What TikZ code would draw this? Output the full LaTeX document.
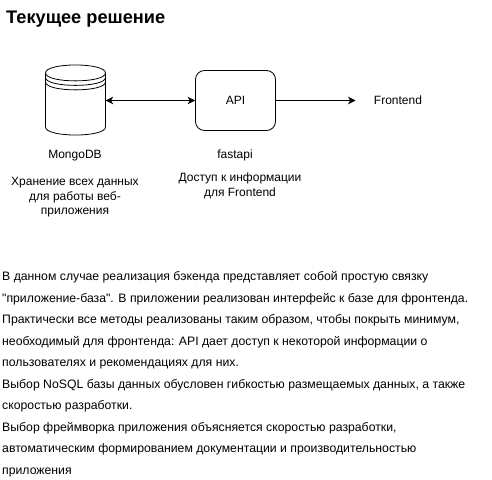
\documentclass[tikz,border=0pt]{standalone}
\usepackage{fontspec}
\setmainfont{Liberation Sans}
\newfontfamily\bodyfont{Liberation Sans}
\usetikzlibrary{arrows.meta}
\tikzset{
  lbl/.style={font=\fontsize{12}{14.6}\selectfont, align=center, inner sep=0pt, text=black},
  conn/.style={line width=0.8pt, draw=black},
  boxx/.style={draw=black, line width=0.8pt, rounded corners=9pt, minimum width=80pt, minimum height=60pt, inner sep=0pt, font=\fontsize{12}{14.4}\selectfont},
  cylbody/.style={inner sep=0pt, minimum width=60pt, minimum height=70pt},
}
\begin{document}
\begin{tikzpicture}[x=1pt,y=-1pt]
\useasboundingbox (0,0) rectangle (492,479);
\node[inner sep=0pt, anchor=base west, font=\fontsize{18.2}{21}\selectfont\bfseries] (title) at (6,23) {Текущее решение};
% cylinder
\node[cylbody] (db) at (75.5,100.5) {};
\draw[line width=0.8pt] (45.5,73) .. controls (45.5,62.3) and (105.5,62.3) .. (105.5,73)
  -- (105.5,127) .. controls (105.5,137.7) and (45.5,137.7) .. (45.5,127) -- cycle;
\draw[line width=0.8pt] (45.5,73) .. controls (45.5,83.5) and (105.5,83.5) .. (105.5,73);
\draw[line width=0.8pt] (45.5,77.5) .. controls (45.5,88) and (105.5,88) .. (105.5,77.5);
\draw[line width=0.8pt] (45.5,82) .. controls (45.5,92.5) and (105.5,92.5) .. (105.5,82);
% API
\node[boxx] (api) at (235.5,100.5) {API};
\coordinate (fe) at (355.5,100.5);
\draw[conn, {Stealth[length=7.5pt,width=7.5pt,inset=2.2pt]}-{Stealth[length=7.5pt,width=7.5pt,inset=2.2pt]}] (db.east) -- (api.west);
\draw[conn, -{Stealth[length=7.5pt,width=7.5pt,inset=2.2pt]}] (api.east) -- (fe);
\node[lbl] (front) at (398,100) {Frontend};
\node[lbl] (mongo) at (75,155.5) {MongoDB};
\node[lbl] (fastapi) at (235,155.5) {fastapi};
\node[lbl, anchor=north] (dbd) at (75,177) {Хранение всех данных\\для работы веб-\\приложения};
\node[lbl, anchor=north] (apid) at (240,173) {Доступ к информации\\для Frontend};
\node[inner sep=0pt, anchor=base west, align=left, font=\bodyfont\fontsize{12.25}{21.55}\selectfont] (body) at (2,474.5) {%
В данном случае реализация бэкенда представляет собой простую связку\\
"приложение-база". В приложении реализован интерфейс к базе для фронтенда.\\
Практически все методы реализованы таким образом, чтобы покрыть минимум,\\
необходимый для фронтенда: API дает доступ к некоторой информации о\\
пользователях и рекомендациях для них.\\
Выбор NoSQL базы данных обусловен гибкостью размещаемых данных, а также\\
скоростью разработки.\\
Выбор фреймворка приложения объясняется скоростью разработки,\\
автоматическим формированием документации и производительностью\\
приложения};
\end{tikzpicture}
\end{document}
